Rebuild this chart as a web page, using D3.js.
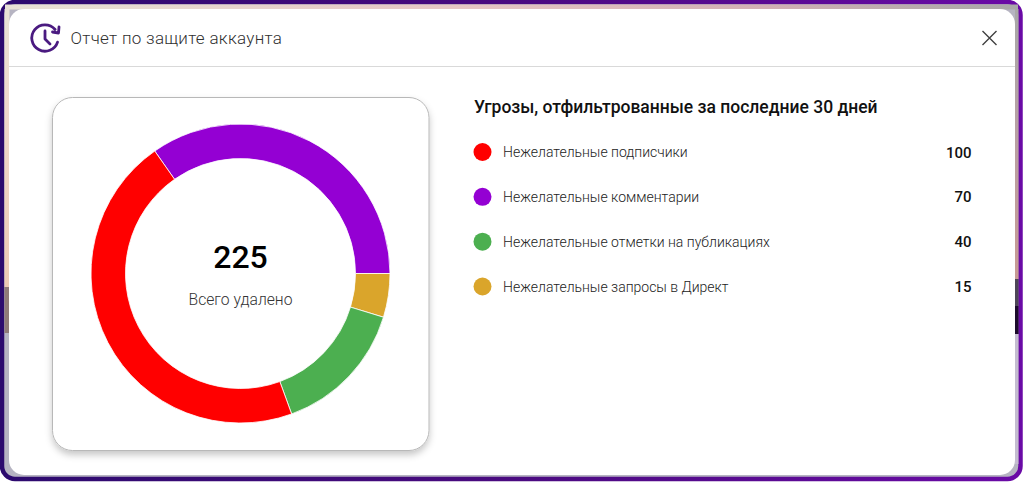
<!DOCTYPE html>
<html>
<head>
<meta charset="utf-8">
<script src="https://cdn.jsdelivr.net/npm/d3@7"></script>
<style>
  html, body { margin: 0; padding: 0; background: #fff; }
  text { font-family: Roboto, sans-serif; }
</style>
</head>
<body>
<div id="chart"></div>
<script>
// Legend rows, in the order they are listed
const categories = ["Нежелательные подписчики", "Нежелательные комментарии", "Нежелательные отметки на публикациях", "Нежелательные запросы в Директ"];
const values = [100, 70, 40, 15];
const colors = ["#ff0000", "#9400d3", "#4caf50", "#daa52b"];

// Ring sweep of each segment as drawn (degrees), it differs from the legend numbers
const ringOrder = [1, 3, 2, 0];
const ringSweep = [125, 17, 53, 165];

const width = 1024;
const height = 482;

const svg = d3.select("#chart")
    .append("svg")
    .attr("width", width)
    .attr("height", height)
    .style("display", "block");

const defs = svg.append("defs");

function gradient(id, vertical, stops) {
    const g = defs.append("linearGradient").attr("id", id)
        .attr("x1", 0).attr("y1", 0)
        .attr("x2", vertical ? 0 : 1).attr("y2", vertical ? 1 : 0);
    stops.forEach(s => g.append("stop").attr("offset", s[0]).attr("stop-color", s[1]));
}

// Purple frame, dark on the left and lighter on the right
gradient("frameGrad", false, [[0, "#2c0a6e"], [0.5, "#4a0a80"], [1, "#6a0aa6"]]);
// Backdrop peeking out behind the dialog
gradient("topGrad", false, [[0, "#e8e2d6"], [0.45, "#e6c6c4"], [0.75, "#d2b0b4"], [1, "#a8a8a8"]]);
gradient("leftGrad", true, [[0, "#e8e2d6"], [0.35, "#efd8cc"], [1, "#eccab4"]]);
gradient("rightGrad", true, [[0, "#a8a8a8"], [0.45, "#b8a0a4"], [1, "#c89a94"]]);

const shadow = defs.append("filter").attr("id", "cardShadow")
    .attr("x", "-10%").attr("y", "-10%").attr("width", "120%").attr("height", "120%");
shadow.append("feDropShadow").attr("dx", 0).attr("dy", 4).attr("stdDeviation", 3.5)
    .attr("flood-color", "#000").attr("flood-opacity", 0.22);

// Frame filled with the bottom backdrop colour first
svg.append("rect")
    .attr("x", 2).attr("y", 2)
    .attr("width", 1018.5).attr("height", 477)
    .attr("rx", 13)
    .attr("fill", "#b6b4c2")
    .attr("stroke", "url(#frameGrad)")
    .attr("stroke-width", 4.5);

// Backdrop strips between the frame and the dialog
svg.append("rect").attr("x", 5).attr("y", 4.5).attr("width", 1013).attr("height", 5).attr("fill", "url(#topGrad)");
svg.append("rect").attr("x", 4.5).attr("y", 9).attr("width", 5).attr("height", 278).attr("fill", "url(#leftGrad)");
svg.append("rect").attr("x", 4.5).attr("y", 287).attr("width", 5).attr("height", 46).attr("fill", "#8f7a78");
svg.append("rect").attr("x", 1015).attr("y", 9).attr("width", 3.5).attr("height", 270).attr("fill", "url(#rightGrad)");
svg.append("rect").attr("x", 1015).attr("y", 279).attr("width", 3.5).attr("height", 27).attr("fill", "#4e4658");
svg.append("rect").attr("x", 1015).attr("y", 306).attr("width", 3.5).attr("height", 28).attr("fill", "#1d0c2c");
svg.append("rect").attr("x", 1015).attr("y", 334).attr("width", 3.5).attr("height", 130).attr("fill", "#c4bcd0");

// Dialog
svg.append("rect")
    .attr("x", 9).attr("y", 9)
    .attr("width", 1006).attr("height", 466)
    .attr("rx", 15)
    .attr("fill", "#fff");

svg.append("line")
    .attr("x1", 9).attr("x2", 1015)
    .attr("y1", 66.5).attr("y2", 66.5)
    .attr("stroke", "#d9d9d9");

// Header icon: clock with a refresh arrow
const deg = Math.PI / 180;
const icon = svg.append("g")
    .attr("transform", "translate(45,38)")
    .attr("fill", "none")
    .attr("stroke", "#4a1a80")
    .attr("stroke-width", 2.8)
    .attr("stroke-linecap", "round")
    .attr("stroke-linejoin", "round");
icon.append("path")
    .attr("d", d3.arc()({ innerRadius: 13.2, outerRadius: 13.2, startAngle: 108 * deg, endAngle: 410 * deg }));
icon.append("path").attr("d", "M0,-7V1L5,6");
icon.append("path").attr("d", "M14,-11L13.5,-5L7.5,-6");

svg.append("text")
    .attr("x", 70.5).attr("y", 44)
    .attr("font-size", 17)
    .attr("font-weight", 300)
    .attr("letter-spacing", 0.3)
    .attr("fill", "#303030")
    .text("Отчет по защите аккаунта");

// Close button
svg.append("path")
    .attr("d", "M982.5,31L996.5,45M996.5,31L982.5,45")
    .attr("stroke", "#404040")
    .attr("stroke-width", 1.4)
    .attr("fill", "none");

// Card around the ring
svg.append("rect")
    .attr("x", 52.5).attr("y", 97.5)
    .attr("width", 376.5).attr("height", 353)
    .attr("rx", 20)
    .attr("fill", "#fff")
    .attr("stroke", "#b8b8b8")
    .attr("filter", "url(#cardShadow)");

// Ring
const pie = d3.pie()
    .value(d => d.sweep)
    .sort(null)
    .startAngle(-35 * deg)
    .endAngle(325 * deg);

const arc = d3.arc()
    .innerRadius(115)
    .outerRadius(149.5);

const ring = svg.append("g").attr("transform", "translate(240.5,273.5)");

ring.selectAll("path")
    .data(pie(ringOrder.map((idx, i) => ({ color: colors[idx], sweep: ringSweep[i] }))))
    .enter()
    .append("path")
    .attr("d", arc)
    .attr("fill", d => d.data.color)
    .attr("stroke", "#fff")
    .attr("stroke-width", 0.8);

ring.append("text")
    .attr("text-anchor", "middle")
    .attr("y", -6)
    .attr("font-size", 32)
    .attr("font-weight", 500)
    .attr("fill", "#000")
    .text(d3.sum(values));

ring.append("text")
    .attr("text-anchor", "middle")
    .attr("y", 31)
    .attr("font-size", 15.7)
    .attr("font-weight", 300)
    .attr("fill", "#333")
    .text("Всего удалено");

// Legend
svg.append("text")
    .attr("x", 474).attr("y", 113)
    .attr("font-size", 17.5)
    .attr("font-weight", 500)
    .attr("fill", "#111")
    .text("Угрозы, отфильтрованные за последние 30 дней");

const rowY = d3.scalePoint().domain(categories).range([152, 286.5]);

const rows = svg.selectAll("g.row")
    .data(categories)
    .enter()
    .append("g")
    .attr("class", "row")
    .attr("transform", d => `translate(0,${rowY(d)})`);

rows.append("circle")
    .attr("cx", 482.5)
    .attr("r", 9)
    .attr("fill", (d, i) => colors[i]);

rows.append("text")
    .attr("x", 503)
    .attr("y", 5)
    .attr("font-size", 14)
    .attr("font-weight", 300)
    .attr("fill", "#222")
    .text(d => d);

rows.append("text")
    .attr("x", 971.5)
    .attr("y", 5.5)
    .attr("text-anchor", "end")
    .attr("font-size", 15)
    .attr("font-weight", 500)
    .attr("fill", "#111")
    .text((d, i) => values[i]);
</script>
</body>
</html>
